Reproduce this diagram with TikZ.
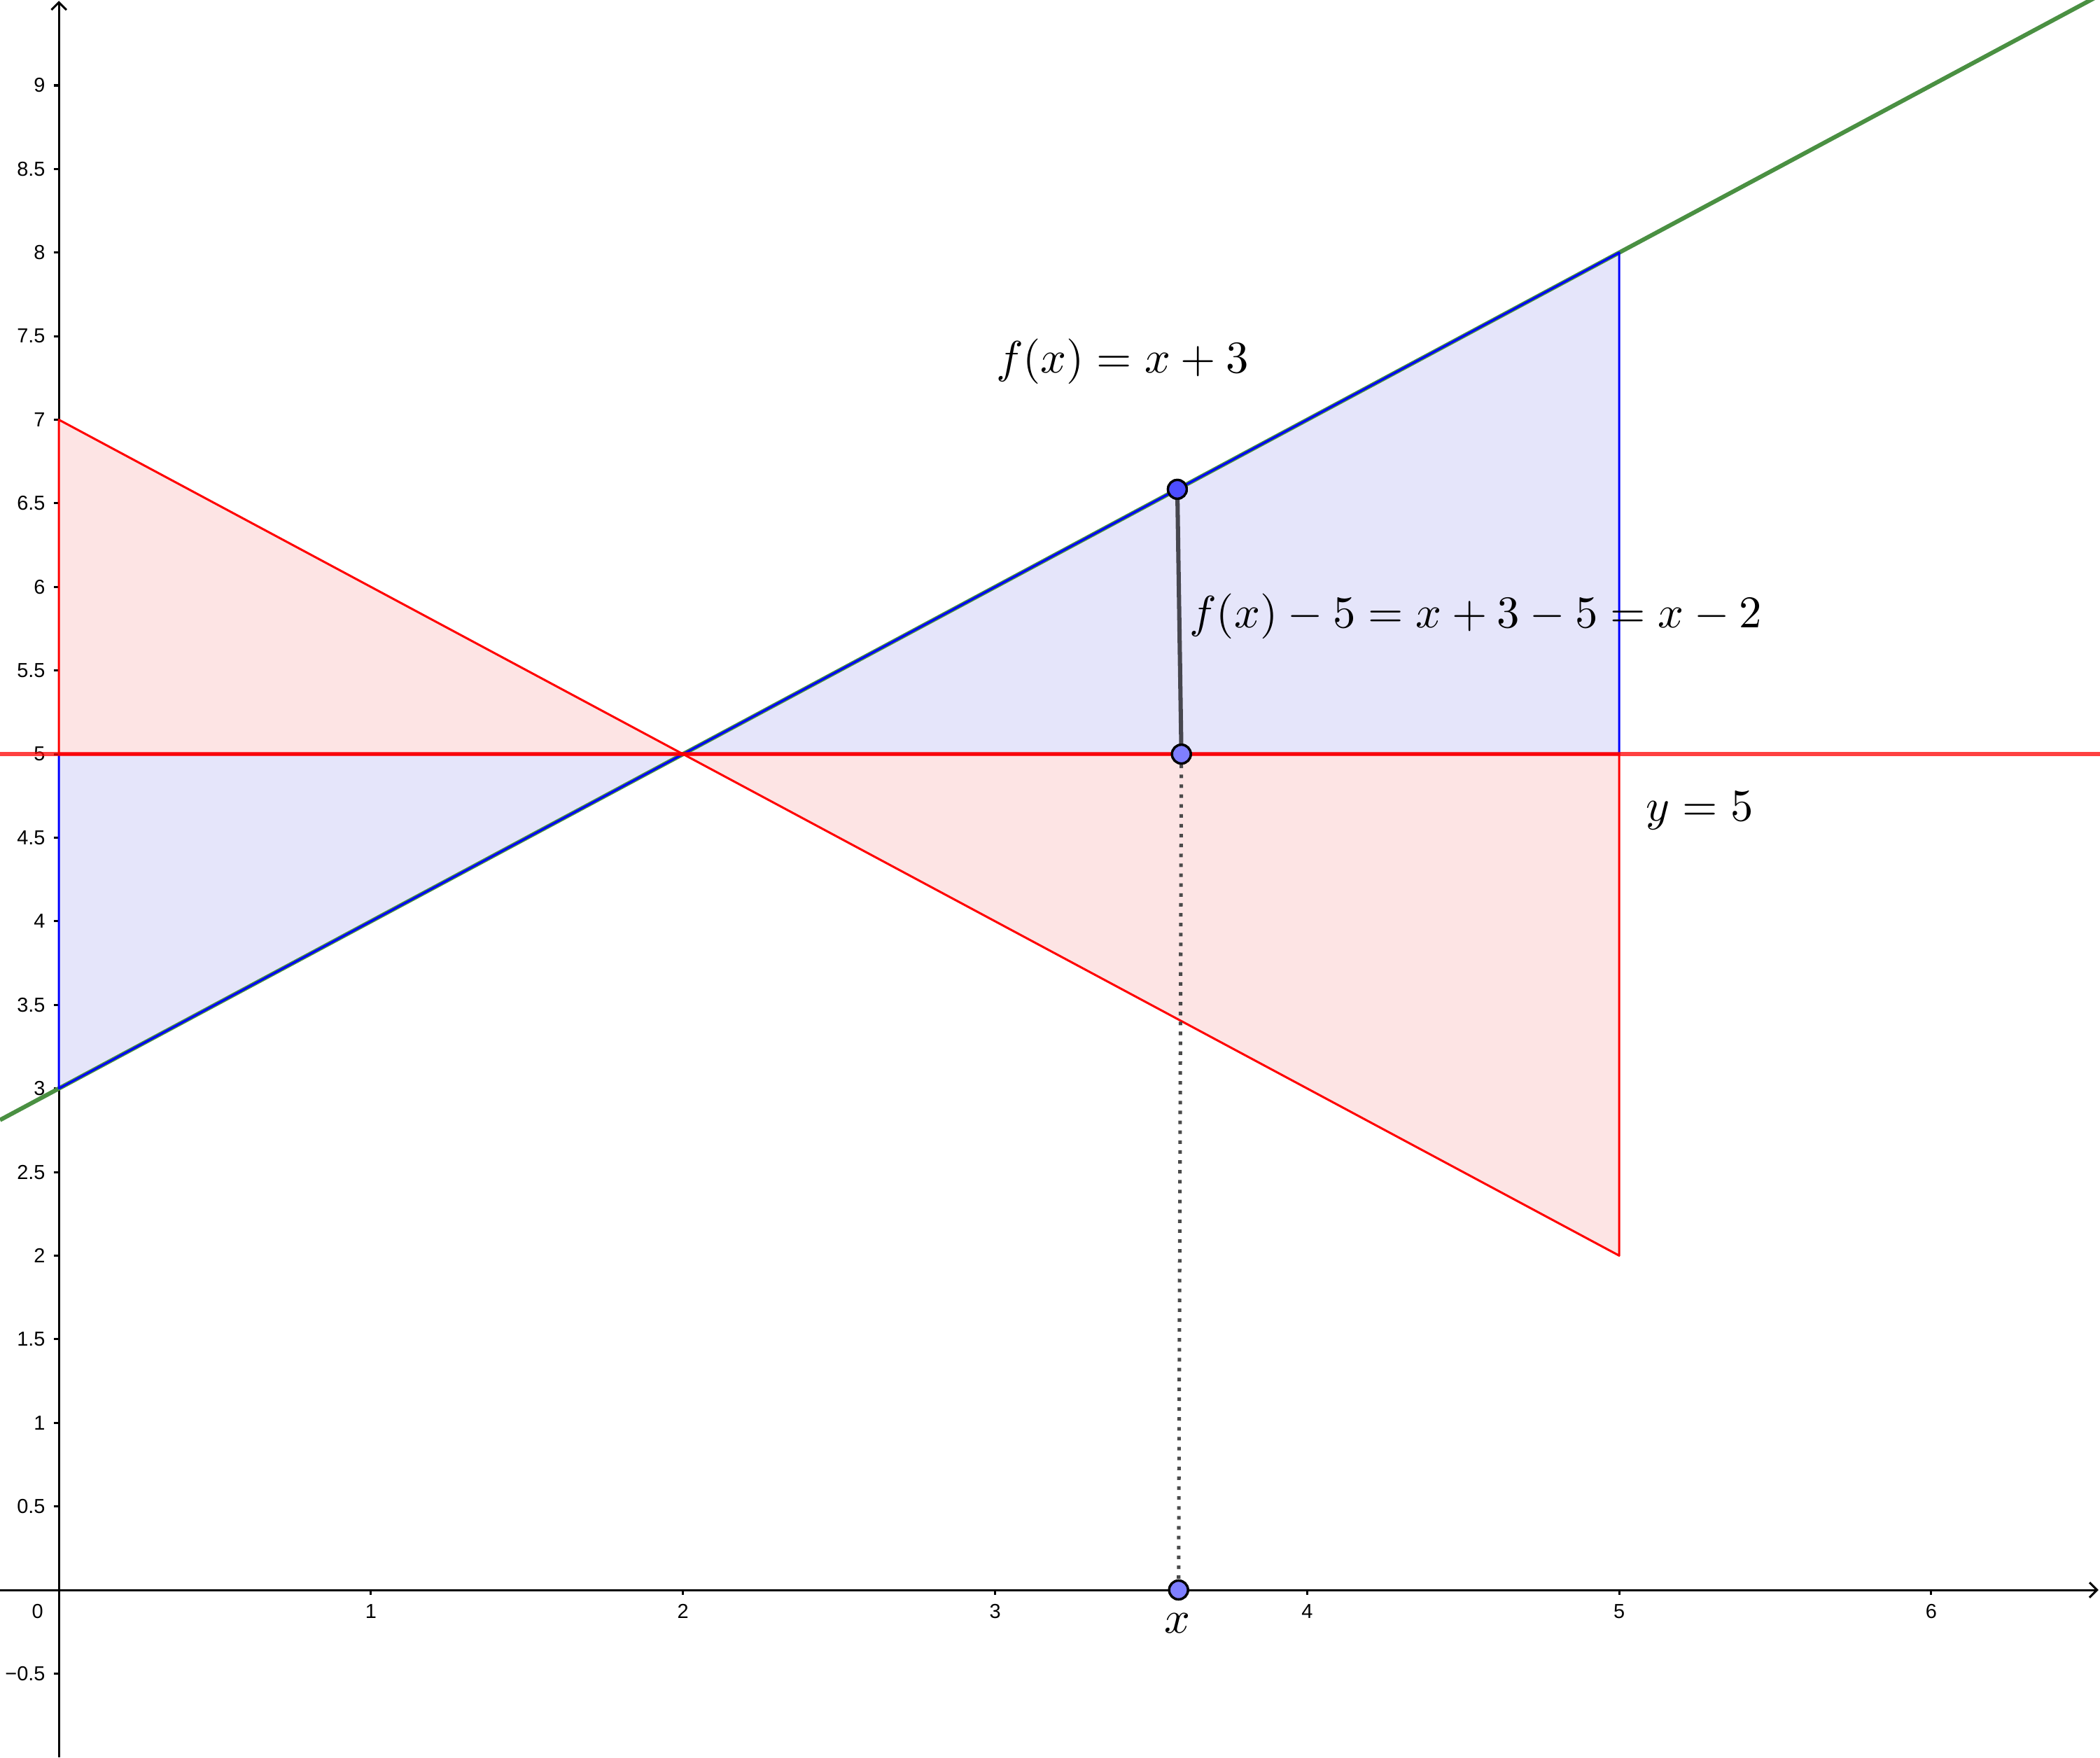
\documentclass[tikz,border=0pt]{standalone}
\usepackage{fontspec}
\newfontfamily\ticksans{Liberation Sans}
\usepackage{tikz}
\usetikzlibrary{arrows.meta}
\definecolor{LineGreen}{HTML}{4A9042}
\definecolor{FillBlue}{HTML}{E5E5FA}
\definecolor{FillRed}{HTML}{FDE4E4}
\definecolor{EdgeBlue}{HTML}{0000FF}
\definecolor{EdgeRed}{HTML}{FF0000}
\definecolor{PointDark}{HTML}{4D4DFF}
\definecolor{PointLight}{HTML}{7F7FFF}
\definecolor{SegGray}{HTML}{47474F}
\definecolor{DotGray}{HTML}{4A4A4A}
\newcommand{\lblsize}[1]{\scalebox{0.962}{#1}}
\tikzset{
plotaxis/.style={line width=0.45pt, draw=black, -{Straight Barb[length=1.6pt, width=3.2pt, line width=0.45pt]}},
plottick/.style={line width=0.45pt, draw=black},
ticklabel/.style={font=\ticksans\fontsize{4.3}{5}\selectfont, inner sep=0pt},
mathlabel/.style={font=\fontsize{10}{12}\selectfont, inner sep=0pt},
fline/.style={line width=0.9pt, draw=LineGreen},
hline/.style={line width=0.9pt, draw=EdgeRed, draw opacity=0.75},
bluearea/.style={fill=FillBlue, draw=EdgeBlue, line width=0.45pt, line join=round},
redarea/.style={fill=FillRed, draw=EdgeRed, line width=0.45pt, line join=round},
segline/.style={line width=0.9pt, draw=SegGray},
dotline/.style={line width=0.75pt, draw=DotGray, dash pattern=on 0.75pt off 1.35pt},
ptdark/.style={circle, draw=black, line width=0.5pt, fill=PointDark, inner sep=0pt, minimum size=0.14cm},
ptlight/.style={circle, draw=black, line width=0.5pt, fill=PointLight, inner sep=0pt, minimum size=0.14cm}
}
\begin{document}
\begin{tikzpicture}[x=2.33cm, y=1.248cm]
  \useasboundingbox (-0.1888,-1.0016) rectangle (6.5408,9.511);
  \clip (-0.1888,-1.0016) rectangle (6.5408,9.511);
  \draw[plotaxis] (-0.1888,0) -- (6.536,0);
  \draw[plotaxis] (0,-1.0016) -- (0,9.506);
  \foreach \k in {1,...,6}{
    \draw[plottick] (\k,0) -- ++(0,-0.036cm);
    \node[ticklabel, yshift=-0.16cm] (xl\k) at (\k,0) {\k};
  }
  \node[ticklabel, xshift=-0.16cm, yshift=-0.16cm] (xl0) at (0,0) {0};
  \foreach \v [count=\i] in {0.5,1,1.5,2,2.5,3,3.5,4,4.5,5,5.5,6,6.5,7,7.5,8,8.5,9}{
    \draw[plottick] (0,\v) -- ++(-0.036cm,0);
    \node[ticklabel, anchor=east, xshift=-0.096cm] (yl\i) at (0,\v) {\v};
  }
  \draw[plottick] (0,-0.5) -- ++(-0.036cm,0);
  \node[ticklabel, anchor=east, xshift=-0.096cm] (ylm) at (0,-0.5) {−0.5};
  \fill[FillBlue] (0,3) -- (0,5) -- (2,5) -- cycle;
  \fill[FillBlue] (2,5) -- (5,8) -- (5,5) -- cycle;
  \fill[FillRed] (0,5) -- (0,7) -- (2,5) -- cycle;
  \fill[FillRed] (2,5) -- (5,2) -- (5,5) -- cycle;
  \draw[fline] (-0.1888,2.8112) -- (6.5408,9.5408);
  \draw[bluearea, fill=none] (0,3) -- (0,5) -- (2,5) -- cycle;
  \draw[bluearea, fill=none] (2,5) -- (5,8) -- (5,5) -- cycle;
  \draw[redarea, fill=none] (0,5) -- (0,7) -- (2,5) -- cycle;
  \draw[redarea, fill=none] (2,5) -- (5,2) -- (5,5) -- cycle;
  \draw[hline] (-0.1888,5) -- (6.5408,5);
  \node[ptdark] (top) at (3.584,6.584) {};
  \node[ptlight] (mid) at (3.597,5) {};
  \node[ptlight] (base) at (3.588,0) {};
  \draw[segline] (top) -- (mid);
  \draw[dotline] (mid) -- (base);
  \node[ptdark] at (top) {};
  \node[ptlight] at (mid) {};
  \node[ptlight] at (base) {};
  \node[mathlabel] (flab) at (3.408,7.348) {\lblsize{$f(x)=x+3$}};
  \node[mathlabel, anchor=west] (dlab) at (3.62,5.825) {\lblsize{$f(x)-5=x+3-5=x-2$}};
  \node[mathlabel] (ylab) at (5.258,4.663) {\lblsize{$y=5$}};
  \node[mathlabel] (xlab) at (3.584,-0.2) {\lblsize{$x$}};
\end{tikzpicture}
\end{document}
